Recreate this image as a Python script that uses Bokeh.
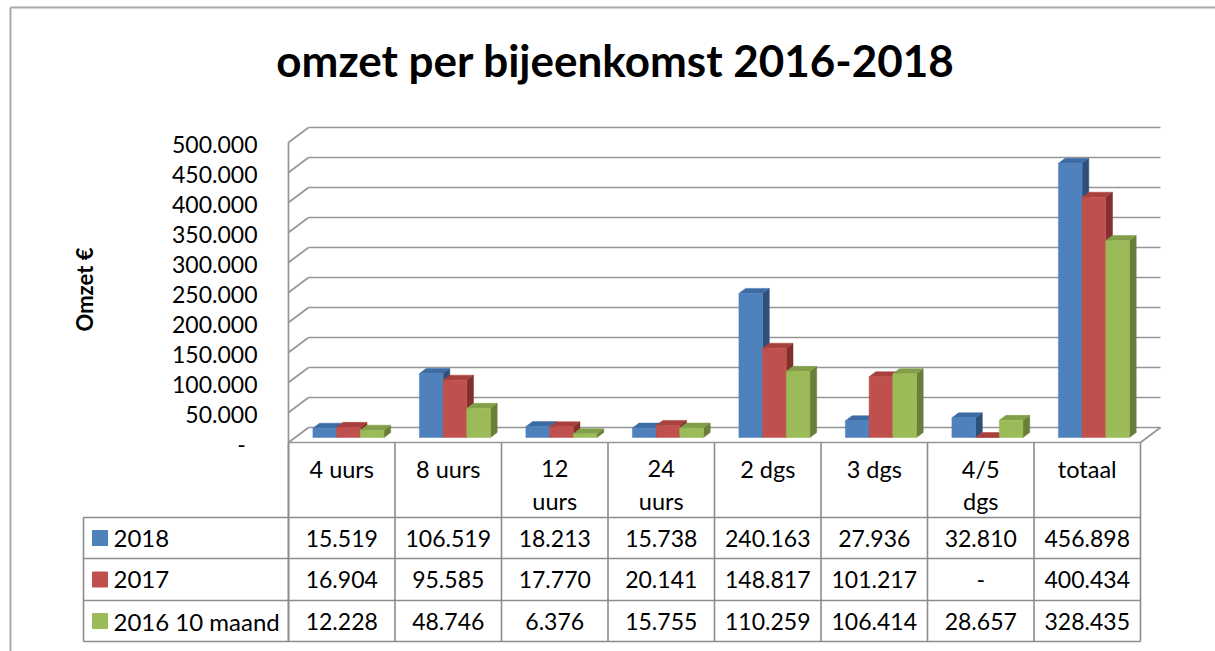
import math
from bokeh.plotting import figure
from bokeh.models import Range1d
from bokeh.core.properties import value
from bokeh.embed import file_html
from bokeh.resources import INLINE

# ---------------- data ----------------
title_text = "omzet per bijeenkomst 2016-2018"
y_title = "Omzet €"
categories = ["4 uurs", "8 uurs", "12 uurs", "24 uurs", "2 dgs", "3 dgs", "4/5 dgs", "totaal"]
wrapped = {"12 uurs", "24 uurs", "4/5 dgs"}
series_names = ["2018", "2017", "2016 10 maand"]
s2018 = [15519, 106519, 18213, 15738, 240163, 27936, 32810, 456898]
s2017 = [16904, 95585, 17770, 20141, 148817, 101217, 0, 400434]
s2016 = [12228, 48746, 6376, 15755, 110259, 106414, 28657, 328435]
series_values = [s2018, s2017, s2016]
y_ticks = [0, 50000, 100000, 150000, 200000, 250000, 300000, 350000, 400000, 450000, 500000]

front_colors = ["#4F81BD", "#C0504D", "#9BBB59"]
top_colors = ["#3D6BA4", "#A8403D", "#819E48"]
side_colors = ["#2E4F7B", "#822F2D", "#687F3A"]

# ---------------- layout helpers (pixel <-> data) ----------------
W, H = 1215, 651
X0 = 288.0          # px of category axis start (front plane)
PXX = 106.5         # px per category
Y0 = 442.0          # px of value 0 (front plane)
UPY = 1000 / 0.6    # value units per px


def xu(px):
    return (px - X0) / PXX


def yu(px):
    return (Y0 - px) * UPY


def dxu(px):
    return px / PXX


def dyu(px):
    return px * UPY


def fmt(v):
    return "-" if v == 0 else f"{v:,}".replace(",", ".")


FONT = value("Lato")
GRID = "#969696"
TAB = "#8C8C8C"

p = figure(width=W, height=H, x_range=Range1d(xu(0), xu(W)), y_range=Range1d(yu(H), yu(0)),
           output_backend="svg", toolbar_location=None, min_border=0,
           x_axis_location=None, y_axis_location=None)
p.grid.visible = False
p.outline_line_color = None
p.background_fill_color = "white"
p.border_fill_color = "white"

ncat = len(categories)
DX, DY = dxu(20), dyu(15)      # full depth of the 3D box

# chart border
p.segment(x0=[xu(10), xu(10)], y0=[yu(7), yu(7)], x1=[xu(W), xu(10)], y1=[yu(7), yu(H)],
          line_color="#A8A8A8", line_width=2)

# back wall gridlines + side wall slants
p.segment(x0=[DX] * len(y_ticks), y0=[v + DY for v in y_ticks],
          x1=[ncat + DX] * len(y_ticks), y1=[v + DY for v in y_ticks],
          line_color=GRID, line_width=1.7)
p.segment(x0=[0] * len(y_ticks), y0=y_ticks, x1=[DX] * len(y_ticks), y1=[v + DY for v in y_ticks],
          line_color=GRID, line_width=1.7)
# floor front edge and right slant, left front vertical
p.segment(x0=[0, ncat, 0], y0=[0, 0, max(y_ticks)], x1=[ncat, ncat + DX, 0], y1=[0, DY, yu(641)],
          line_color=GRID, line_width=1.7)

# ---------------- 3D bars ----------------
bw = 23.7 / PXX
bdx, bdy = dxu(6.7), dyu(5)       # bar depth offset and position (middle third)
base = dyu(5)
sides_x, sides_y, sides_c = [], [], []
tops_x, tops_y, tops_c = [], [], []
fl, fr, fb, ft, fc = [], [], [], [], []
for i in range(ncat):
    for s in range(len(series_values)):
        v = series_values[s][i]
        cx = i + 0.5 + (s - 1) * bw + dxu(6.7)
        l, r = cx - bw / 2, cx + bw / 2
        b, t = base, base + v
        sides_x.append([r, r, r + bdx, r + bdx])
        sides_y.append([b, t, t + bdy, b + bdy])
        sides_c.append(side_colors[s])
        tops_x.append([l, r, r + bdx, l + bdx])
        tops_y.append([t, t, t + bdy, t + bdy])
        tops_c.append(top_colors[s])
        fl.append(l); fr.append(r); fb.append(b); ft.append(t); fc.append(front_colors[s])

p.patches(xs=sides_x, ys=sides_y, fill_color=sides_c, line_color=sides_c, line_width=0.5)
p.patches(xs=tops_x, ys=tops_y, fill_color=tops_c, line_color=tops_c, line_width=0.5)
p.quad(left=fl, right=fr, bottom=fb, top=ft, fill_color=fc, line_color=fc, line_width=0.5)

# ---------------- y tick labels ----------------
nz = [v for v in y_ticks if v != 0]
p.text(x=[xu(257)] * len(nz), y=[v - dyu(2) for v in nz], text=[fmt(v) for v in nz],
       text_font=FONT, text_font_size="23px", text_align="right", text_baseline="middle",
       text_color="black")
p.text(x=[xu(241)], y=[-dyu(2)], text=[fmt(0)], text_font=FONT, text_font_size="23px",
       text_align="center", text_baseline="middle", text_color="black")

# ---------------- data table ----------------
row_bounds = [517, 558, 600, 641]
p.segment(x0=[xu(83)] * len(row_bounds), y0=[yu(py) for py in row_bounds],
          x1=[ncat] * len(row_bounds), y1=[yu(py) for py in row_bounds],
          line_color=TAB, line_width=1.6)
p.segment(x0=list(range(ncat + 1)) + [xu(83)], y0=[0] * (ncat + 1) + [yu(517)],
          x1=list(range(ncat + 1)) + [xu(83)], y1=[yu(641)] * (ncat + 2),
          line_color=TAB, line_width=1.6)

# header labels
hx, hy, ht = [], [], []
for i, c in enumerate(categories):
    lines = c.split(" ") if c in wrapped else [c]
    for k, ln in enumerate(lines):
        hx.append(i + 0.5); hy.append(yu(468 + 32 * k)); ht.append(ln)
p.text(x=hx, y=hy, text=ht, text_font=FONT, text_font_size="23.5px", text_align="center",
       text_baseline="middle", text_color="black")

# values
row_centers = [537.5, 579, 620.5]
vx, vy, vt = [], [], []
for s, vals in enumerate(series_values):
    for i, v in enumerate(vals):
        vx.append(i + 0.5); vy.append(yu(row_centers[s])); vt.append(fmt(v))
p.text(x=vx, y=vy, text=vt, text_font=FONT, text_font_size="23px", text_align="center",
       text_baseline="middle", text_color="black")

# legend keys + names
p.scatter(x=[xu(99.5)] * 3, y=[yu(py) for py in row_centers], marker="square", size=15,
          fill_color=front_colors, line_color=front_colors)
p.text(x=[xu(113)] * 3, y=[yu(py) for py in row_centers], text=series_names, text_font=FONT,
       text_font_size="24px", text_align="left", text_baseline="middle", text_color="black")

# ---------------- titles ----------------
p.text(x=[xu(615)], y=[yu(59)], text=[title_text], text_font=FONT, text_font_size="44px",
       text_font_style="bold", text_align="center", text_baseline="middle", text_color="black")
p.text(x=[xu(84)], y=[yu(289)], text=[y_title], text_font=FONT, text_font_size="22px",
       text_font_style="bold", text_align="center", text_baseline="middle", text_color="black",
       angle=math.pi / 2)

open("out.html", "w").write(file_html(p, INLINE))
